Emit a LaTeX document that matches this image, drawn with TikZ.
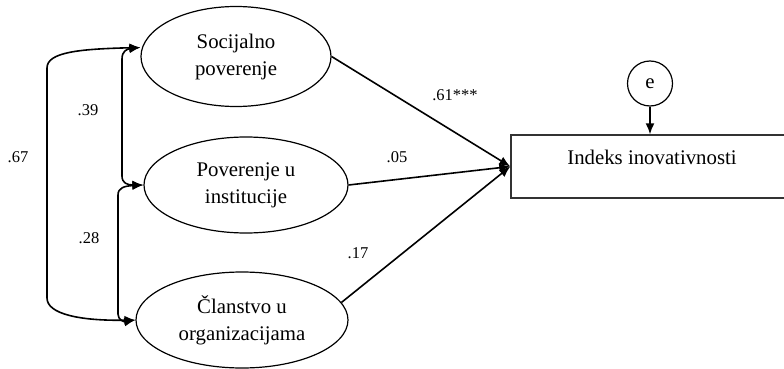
\documentclass[tikz,border=0pt]{standalone}
\usepackage{fontspec}
\setmainfont{Liberation Serif}
\usetikzlibrary{arrows.meta,shapes.geometric,calc}
\begin{document}
\begin{tikzpicture}[x=1pt,y=-1pt,
  latent/.style={ellipse, draw, line width=1.2pt, inner sep=0pt, align=center,
    font=\fontsize{20.8}{27}\selectfont},
  lbl/.style={font=\fontsize{16.5}{18}\selectfont, inner sep=0pt},
  conn/.style={line width=1.6pt, -{Latex[length=11pt,width=9pt]}},
  both/.style={line width=1.6pt, {Latex[length=11pt,width=9pt]}-{Latex[length=11pt,width=9pt]}}]
\useasboundingbox (0,0) rectangle (784,369);
\clip (0,0) rectangle (784,369);
\node[latent, minimum width=190pt, minimum height=100pt] (soc) at (236,56.5) {Socijalno\\poverenje};
\node[latent, minimum width=204pt, minimum height=96pt] (inst) at (246,185) {Poverenje u\\institucije};
\node[latent, minimum width=212pt, minimum height=96pt] (cla) at (242,320) {Članstvo u\\organizacijama};
\node[draw=black!80, line width=1.4pt, minimum width=279pt, minimum height=63pt, inner sep=0pt] (box) at (650.5,166.5) {};
\node[font=\fontsize{20.8}{27}\selectfont, inner sep=0pt] (boxtext) at (652,157) {Indeks inovativnosti};
\node[circle, draw, line width=1.2pt, minimum size=45pt, inner sep=0pt, font=\fontsize{20.8}{27}\selectfont] (e) at (650,83.5) {e};

\draw[conn] (soc.east) -- (box.west);
\draw[conn] (inst.east) -- (box.west);
\draw[conn] (cla.10) -- (box.west);
\draw[conn] (e.south) -- (e.south |- box.north);

\draw[both] ([yshift=9pt]soc.west) .. controls (80,49) and (47,52) .. (47,68) -- (47,298) .. controls (47,314) and (80,321) .. (cla.west);
\draw[both] ([yshift=9pt]soc.west) .. controls (127,49) and (122,51) .. (122,59) -- (122,176) .. controls (122,183) and (127,185) .. (inst.west);
\draw[both] (inst.west) .. controls (124,186) and (118,188) .. (118,195) -- (118,314) .. controls (118,320) and (124,322) .. (cla.west);

\node[lbl] (l67) at (18,157) {.67};
\node[lbl] (l39) at (88,110) {.39};
\node[lbl] (l28) at (89,238) {.28};
\node[lbl] (l61) at (455,95) {.61***};
\node[lbl] (l05) at (397,157) {.05};
\node[lbl] (l17) at (358,253) {.17};
\end{tikzpicture}
\end{document}
